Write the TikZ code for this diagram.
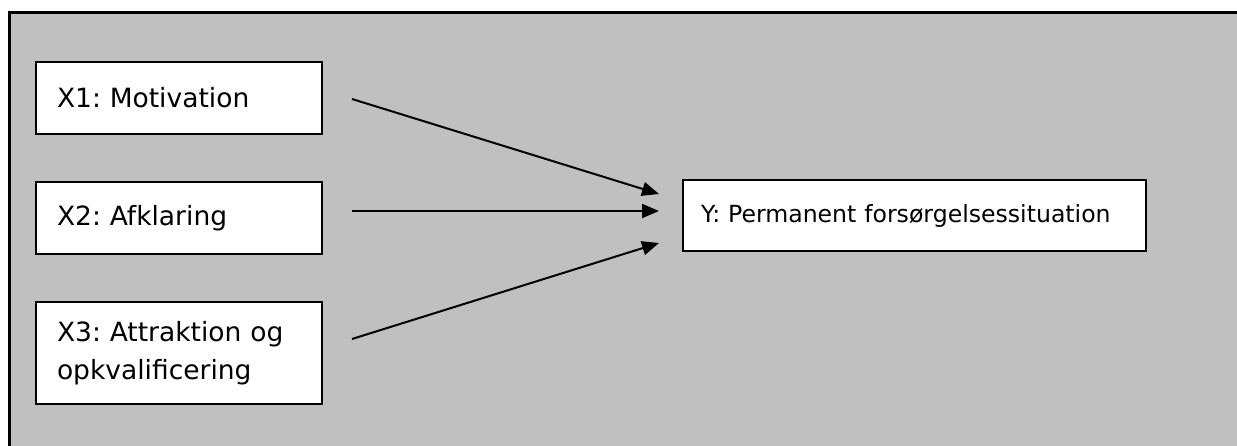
\documentclass[tikz,border=0pt]{standalone}
\usepackage{fontspec}
\setmainfont{DejaVu Sans}
\usetikzlibrary{arrows.meta}
\definecolor{panelgray}{HTML}{C0C0C0}
\frenchspacing
\begin{document}
\begin{tikzpicture}[x=1pt,y=-1pt,
  varbox/.style={draw=black, line width=2pt, fill=white, anchor=north west,
    inner xsep=21pt, inner ysep=0pt, align=left, font=\fontsize{26.5}{38}\selectfont},
  link/.style={line width=2pt, -{Triangle[length=17pt,width=14pt]}}]
\useasboundingbox (0,0) rectangle (1237,446);
\begin{scope}
\clip (0,0) rectangle (1237,446);
\fill[white] (0,0) rectangle (1237,446);
\fill[panelgray] (9.5,13) rectangle (1300,500);
\draw[line width=3pt] (9.5,500) -- (9.5,13) -- (1300,13);
\end{scope}
\node[varbox, minimum width=286pt, minimum height=72pt, text width=244pt] (x1) at (35,61) {X1: Motivation};
\node[varbox, minimum width=286pt, minimum height=72pt, text width=244pt] (x2) at (35,181) {X2: Afklaring};
\node[varbox, minimum width=286pt, minimum height=102pt, text width=244pt] (x3) at (35,301) {X3: Attraktion og\\opkvalificering};
\node[varbox, inner xsep=18pt, minimum width=463pt, minimum height=71pt, text width=427pt,
  font=\fontsize{23.6}{30}\selectfont] (y) at (682,179) {\mbox{Y: Permanent forsørgelsessituation}};
\coordinate (s1) at (352,99);
\coordinate (s2) at (352,211);
\coordinate (s3) at (352,339);
\coordinate (e1) at (659,194);
\coordinate (e2) at (659,211);
\coordinate (e3) at (659,243);
\draw[link] (s1) -- (e1);
\draw[link] (s2) -- (e2);
\draw[link] (s3) -- (e3);
\end{tikzpicture}
\end{document}
